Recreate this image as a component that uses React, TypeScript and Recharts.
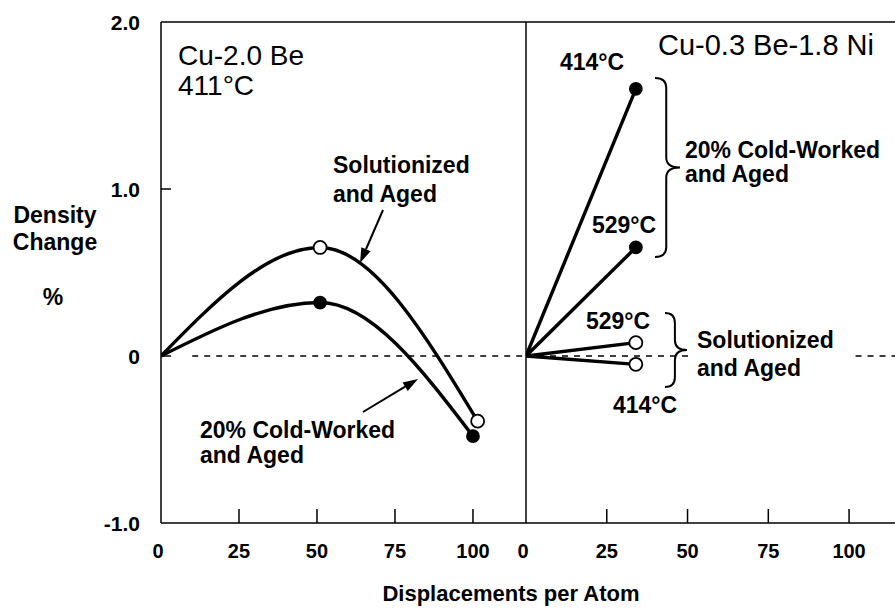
import { LineChart, Line, XAxis, YAxis, ReferenceLine } from 'recharts';

const FONT = '"Liberation Sans", Arial, Helvetica, sans-serif';

// Cu-2.0 Be aged at 411°C
const beSolDpa = [0, 51, 101.5];
const beSolAged = [0, 0.65, -0.39];
const beColdDpa = [0, 51, 100];
const beColdAged = [0, 0.32, -0.48];

// Cu-0.3 Be-1.8 Ni
const niDpa = [0, 34];
const niCold414 = [0, 1.6];
const niCold529 = [0, 0.65];
const niSol529 = [0, 0.08];
const niSol414 = [0, -0.05];

const yTicks = [-1, 0, 1, 2];
const yTickLabels = ['-1.0', '0', '1.0', '2.0'];
const xTicks = [0, 25, 50, 75, 100];

const toPoints = (xs: number[], ys: number[]) => xs.map((x, i) => ({ x, y: ys[i] }));

const W = 895;
const H = 610;
const PLOT_TOP = 22;
const X_AXIS_H = 87;
const LEFT_AXIS = 161;
const DIVIDER = 526;
const PAD = 20;

const dot = (filled: boolean) => (p: any) => {
    if (p.index === 0) return <g key={`d${p.index}`} />;
    return (
        <circle
            key={`d${p.index}`}
            cx={p.cx}
            cy={p.cy}
            r={filled ? 6 : 6.5}
            fill={filled ? '#000' : '#fff'}
            stroke="#000"
            strokeWidth={1.8}
        />
    );
};

const YTick = ({ x, y, payload }: any) => {
    const v = payload.value;
    const label = yTickLabels[yTicks.indexOf(v)];
    const inner = v !== -1 && v !== 2;
    return (
        <g>
            {inner && <line x1={x} x2={x + 10} y1={y} y2={y} stroke="#000" strokeWidth={1.5} />}
            <text x={x - 21} y={y} dy="0.36em" textAnchor="end" fontSize={21} fontWeight={700} fontFamily={FONT} fill="#000">
                {label}
            </text>
        </g>
    );
};

const XTick = ({ x, y, payload }: any) => (
    <g>
        {payload.value !== 0 && <line x1={x} x2={x} y1={y} y2={y - 14} stroke="#000" strokeWidth={1.5} />}
        <text x={payload.value === 0 ? x - 3 : x} y={y + 35} textAnchor="middle" fontSize={20} fontWeight={700} fontFamily={FONT} fill="#000">
            {payload.value}
        </text>
    </g>
);

const Arrow = ({ x1, y1, x2, y2 }: { x1: number; y1: number; x2: number; y2: number }) => {
    const a = Math.atan2(y2 - y1, x2 - x1);
    const len = 15;
    const half = 5;
    const bx = x2 - len * Math.cos(a);
    const by = y2 - len * Math.sin(a);
    const px = -Math.sin(a) * half;
    const py = Math.cos(a) * half;
    return (
        <g>
            <line x1={x1} y1={y1} x2={bx} y2={by} stroke="#000" strokeWidth={2} />
            <polygon points={`${x2},${y2} ${bx + px},${by + py} ${bx - px},${by - py}`} fill="#000" />
        </g>
    );
};

const Brace = ({ x, y1, y2, w }: { x: number; y1: number; y2: number; w: number }) => {
    const m = (y1 + y2) / 2;
    const c = x + w * 0.45;
    const r = 10;
    const d = `M${x},${y1} Q${c},${y1} ${c},${y1 + r} L${c},${m - r} Q${c},${m} ${x + w},${m} Q${c},${m} ${c},${m + r} L${c},${y2 - r} Q${c},${y2} ${x},${y2}`;
    return <path d={d} fill="none" stroke="#000" strokeWidth={2} />;
};

const T = ({ x, y, size = 23, weight = 700, anchor = 'start', children }: any) => (
    <text x={x} y={y} fontSize={size} fontWeight={weight} fontFamily={FONT} textAnchor={anchor} fill="#000">
        {children}
    </text>
);

export default function App() {
    return (
        <div style={{ position: 'absolute', left: 0, top: 0, width: W, height: H, overflow: 'hidden', background: '#fff' }}>
            <div style={{ position: 'absolute', left: 0, top: 0 }}>
                <LineChart width={DIVIDER + 4} height={H} margin={{ top: PLOT_TOP, right: 4, bottom: 0, left: 0 }}>
                    <XAxis
                        type="number"
                        dataKey="x"
                        domain={[0, 117]}
                        ticks={xTicks}
                        height={X_AXIS_H}
                        tickSize={0}
                        tickMargin={0}
                        tick={<XTick />}
                        axisLine={{ stroke: '#000', strokeWidth: 1.5 }}
                        allowDataOverflow
                    />
                    <YAxis
                        type="number"
                        domain={[-1, 2]}
                        ticks={yTicks}
                        width={LEFT_AXIS}
                        tickSize={0}
                        tickMargin={0}
                        tick={<YTick />}
                        axisLine={{ stroke: '#000', strokeWidth: 1.5 }}
                        allowDataOverflow
                    />
                    <ReferenceLine y={2} stroke="#000" strokeWidth={1.5} />
                    <ReferenceLine x={117} stroke="#000" strokeWidth={1.5} />
                    <ReferenceLine
                        segment={[{ x: 10, y: 0 }, { x: 117, y: 0 }]}
                        stroke="#000"
                        strokeWidth={1.5}
                        strokeDasharray="6 6"
                    />
                    <Line
                        data={toPoints(beSolDpa, beSolAged)}
                        dataKey="y"
                        type="monotone"
                        stroke="#000"
                        strokeWidth={3.4}
                        dot={dot(false)}
                        isAnimationActive={false}
                    />
                    <Line
                        data={toPoints(beColdDpa, beColdAged)}
                        dataKey="y"
                        type="monotone"
                        stroke="#000"
                        strokeWidth={3.4}
                        dot={dot(true)}
                        isAnimationActive={false}
                    />
                </LineChart>
            </div>
            <div style={{ position: 'absolute', left: DIVIDER - PAD, top: 0 }}>
                <LineChart width={380 + PAD} height={H} margin={{ top: PLOT_TOP, right: 2, bottom: 0, left: PAD }}>
                    <XAxis
                        type="number"
                        dataKey="x"
                        domain={[0, 117]}
                        ticks={xTicks}
                        height={X_AXIS_H}
                        tickSize={0}
                        tickMargin={0}
                        tick={<XTick />}
                        axisLine={{ stroke: '#000', strokeWidth: 1.5 }}
                        allowDataOverflow
                    />
                    <YAxis type="number" domain={[-1, 2]} hide allowDataOverflow />
                    <ReferenceLine y={2} stroke="#000" strokeWidth={1.5} />
                    <ReferenceLine segment={[{ x: 0, y: 0 }, { x: 51, y: 0 }]} stroke="#000" strokeWidth={1.5} strokeDasharray="6 6" />
                    <ReferenceLine segment={[{ x: 102, y: 0 }, { x: 117, y: 0 }]} stroke="#000" strokeWidth={1.5} strokeDasharray="6 6" />
                    <Line data={toPoints(niDpa, niCold414)} dataKey="y" stroke="#000" strokeWidth={3.4} dot={dot(true)} isAnimationActive={false} />
                    <Line data={toPoints(niDpa, niCold529)} dataKey="y" stroke="#000" strokeWidth={3.4} dot={dot(true)} isAnimationActive={false} />
                    <Line data={toPoints(niDpa, niSol529)} dataKey="y" stroke="#000" strokeWidth={3.4} dot={dot(false)} isAnimationActive={false} />
                    <Line data={toPoints(niDpa, niSol414)} dataKey="y" stroke="#000" strokeWidth={3.4} dot={dot(false)} isAnimationActive={false} />
                </LineChart>
            </div>
            <svg width={W} height={H} style={{ position: 'absolute', left: 0, top: 0, pointerEvents: 'none' }}>
                {/* axis titles */}
                <T x={55} y={223} anchor="middle">Density</T>
                <T x={55} y={250} anchor="middle">Change</T>
                <T x={53} y={305} anchor="middle">%</T>
                <T x={511} y={601} size={22} anchor="middle">Displacements per Atom</T>

                {/* left panel */}
                <T x={178} y={65} size={28} weight={400}>Cu-2.0 Be</T>
                <T x={178} y={95} size={28} weight={400}>411°C</T>
                <T x={333} y={173}>Solutionized</T>
                <T x={333} y={202}>and Aged</T>
                <Arrow x1={383} y1={210} x2={360} y2={263} />
                <T x={200} y={438}>20% Cold-Worked</T>
                <T x={200} y={463}>and Aged</T>
                <Arrow x1={363} y1={412} x2={418} y2={379} />

                {/* right panel */}
                <T x={658} y={55} size={29} weight={400}>Cu-0.3 Be-1.8 Ni</T>
                <T x={560} y={70}>414°C</T>
                <T x={592} y={233}>529°C</T>
                <Brace x={655} y1={78} y2={257} w={25} />
                <T x={685} y={158}>20% Cold-Worked</T>
                <T x={685} y={182}>and Aged</T>
                <T x={586} y={329}>529°C</T>
                <Brace x={665} y1={313} y2={387} w={22} />
                <T x={697} y={348}>Solutionized</T>
                <T x={697} y={376}>and Aged</T>
                <T x={613} y={413}>414°C</T>
            </svg>
        </div>
    );
}
